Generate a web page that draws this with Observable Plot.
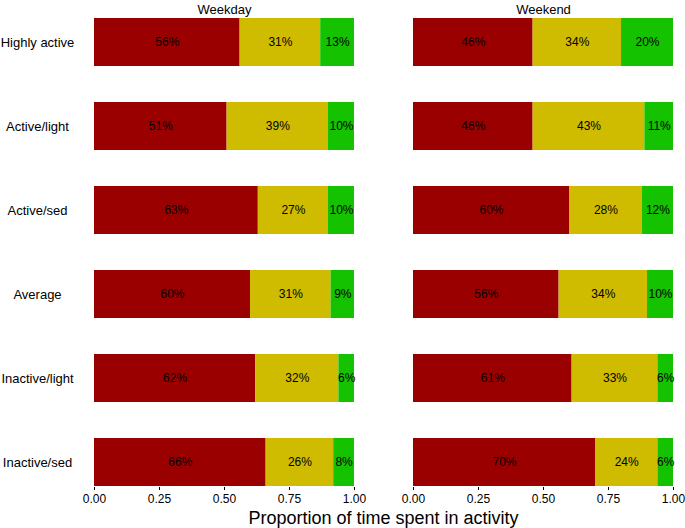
<!DOCTYPE html>
<html><head><meta charset="utf-8">
<script src="https://cdn.jsdelivr.net/npm/d3@7"></script>
<script src="https://cdn.jsdelivr.net/npm/@observablehq/plot@0.6"></script>
<style>body{margin:0;background:#fff}</style>
</head><body><div id="chart"></div>
<script>
const categories = ["Highly active","Active/light","Active/sed","Average","Inactive/light","Inactive/sed"];
const days = ["Weekday","Weekend"];
const activities = ["Sedentary","Light","MVPA"];
const weekdaySedentary = [56,51,63,60,62,66];
const weekdayLight     = [31,39,27,31,32,26];
const weekdayMVPA      = [13,10,10, 9, 6, 8];
const weekendSedentary = [46,46,60,56,61,70];
const weekendLight     = [34,43,28,34,33,24];
const weekendMVPA      = [20,11,12,10, 6, 6];
const xTicks = [0,0.25,0.5,0.75,1];
const colors = ["#9b0000","#cfbb00","#14c200"];

const series = {
  Weekday: [weekdaySedentary, weekdayLight, weekdayMVPA],
  Weekend: [weekendSedentary, weekendLight, weekendMVPA]
};
const rows = [];
for (const day of days) {
  categories.forEach((cat, i) => {
    activities.forEach((act, j) => {
      const v = series[day][j][i];
      rows.push({day, category: cat, activity: act, value: v, share: v / 100});
    });
  });
}

const W = 685, H = 528, ML = 94, MR = 12, MT = 17, MB = 41;
const font = "'Liberation Sans', Arial, Helvetica, sans-serif";

const plot = Plot.plot({
  width: W, height: H,
  marginLeft: ML, marginRight: MR, marginTop: MT, marginBottom: MB,
  style: {fontFamily: font, background: "white", color: "black"},
  fx: {domain: days, paddingInner: 0.185, paddingOuter: 0, label: null},
  x: {domain: [0, 1], label: null},
  y: {domain: categories, paddingInner: 0.431, paddingOuter: 0, label: null},
  color: {domain: activities, range: colors},
  marks: [
    Plot.barX(rows, Plot.stackX({x: "share", y: "category", fx: "day", fill: "activity"})),
    Plot.text(rows, Plot.stackX({x: "share", y: "category", fx: "day", z: "activity",
      text: d => d.value + "%", fill: "black", fontSize: 12})),
    Plot.axisX({ticks: xTicks, tickFormat: d3.format(".2f"), tickSize: 3, tickPadding: 4, label: null, fontSize: 12}),
    Plot.axisY({tickSize: 0, tickPadding: 57, textAnchor: "middle", label: null, fontSize: 13}),
    Plot.axisFx({anchor: "top", tickSize: 0, tickPadding: 4, label: null, fontSize: 13})
  ]
});

d3.select(plot).append("text")
  .attr("x", (ML + W - MR) / 2)
  .attr("y", 524)
  .attr("text-anchor", "middle")
  .attr("font-size", 18)
  .attr("font-family", font)
  .attr("fill", "black")
  .text("Proportion of time spent in activity");

document.getElementById("chart").appendChild(plot);
</script>
</body></html>
